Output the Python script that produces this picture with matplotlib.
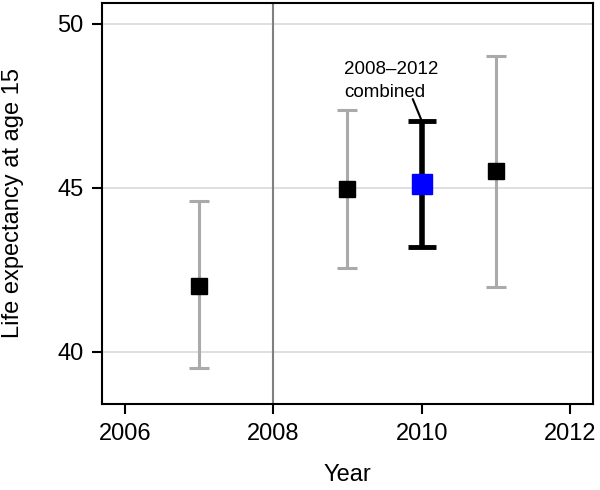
import matplotlib
matplotlib.use("Agg")
import matplotlib.pyplot as plt

plt.rcParams['font.family'] = ['Liberation Sans', 'DejaVu Sans']

years = [2007, 2009, 2011]
values = [42.02, 44.96, 45.52]
lower = [39.50, 42.57, 41.99]
upper = [44.61, 47.37, 49.03]

combined_year = 2010
combined_value = 45.12
combined_lower = 43.2
combined_upper = 47.05

xticks = [2006, 2008, 2010, 2012]
yticks = [40, 45, 50]

fig = plt.figure(figsize=(6, 4.9), dpi=100)
ax = fig.add_axes([0.17, 0.1755, 0.8183, 0.8184])

for y in yticks:
    ax.axhline(y, color='#dcdcdc', lw=1.3, zorder=0)
ax.axvline(2008, color='#808080', lw=1.5, zorder=1)

yerr = [[v - l for v, l in zip(values, lower)], [u - v for v, u in zip(values, upper)]]
ax.errorbar(years, values, yerr=yerr, fmt='none', ecolor='#aaaaaa', elinewidth=2.2,
            capsize=7.5, capthick=2.2, zorder=2)
ax.plot(years, values, 's', color='black', ms=11.5, zorder=3)

ax.errorbar([combined_year], [combined_value],
            yerr=[[combined_value - combined_lower], [combined_upper - combined_value]],
            fmt='none', ecolor='black', elinewidth=4, capsize=10, capthick=3.5, zorder=4)
ax.plot([combined_year], [combined_value], 's', color='#0000ff', ms=15, zorder=5)

ax.text(2008.95, 47.78, '2008–2012\ncombined', ha='left', va='baseline',
        fontsize=13.5, linespacing=1.45, zorder=6)
ax.annotate('', xy=(combined_year, combined_upper), xytext=(2009.88, 47.71),
            arrowprops=dict(arrowstyle='-', color='black', lw=1.5,
                            shrinkA=0, shrinkB=0))

ax.set_xlim(2005.69, 2012.31)
ax.set_ylim(38.41, 50.64)
ax.set_xticks(xticks)
ax.set_yticks(yticks)
ax.tick_params(axis='both', direction='out', length=7.5, width=1.5, labelsize=17, pad=6)
for s in ax.spines.values():
    s.set_linewidth(1.5)
    s.set_color('black')

ax.set_xlabel('Year', fontsize=17, labelpad=14)
ax.set_ylabel('Life expectancy at age 15', fontsize=17, labelpad=24)

fig.savefig('out.png', dpi=100)
